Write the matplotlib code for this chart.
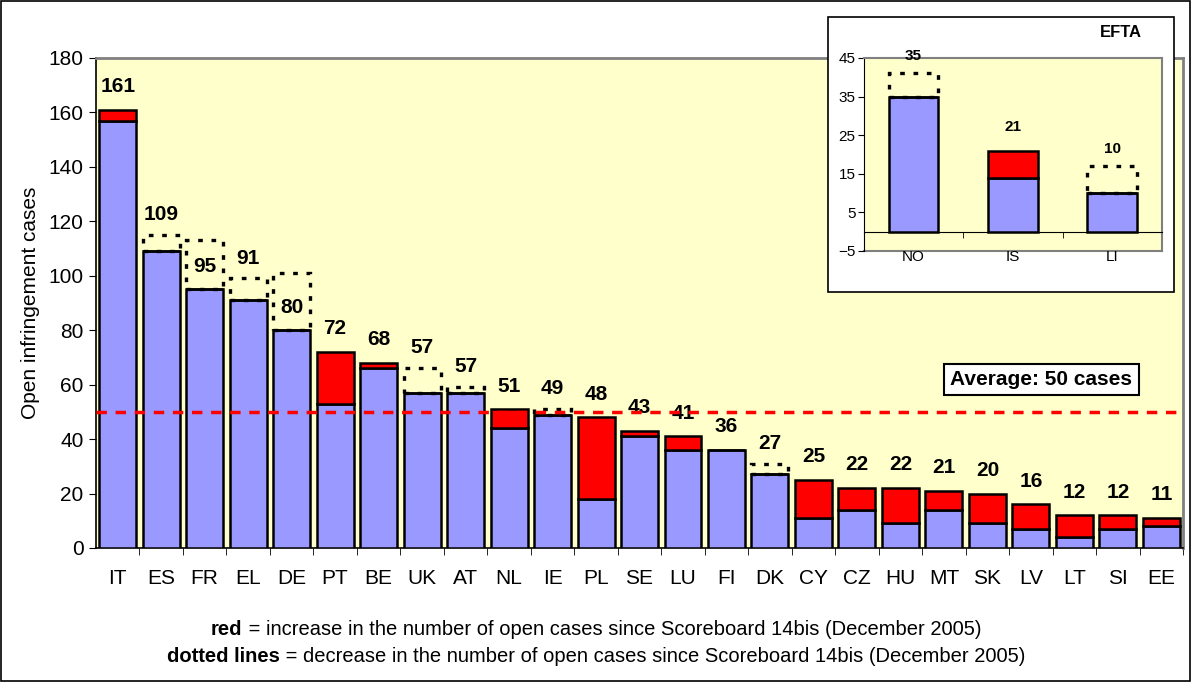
import numpy as np
import matplotlib.pyplot as plt
from matplotlib.patches import Rectangle

plt.rcParams['font.family'] = ['Liberation Sans', 'DejaVu Sans']

# EU member states: open cases now and at Scoreboard 14bis (Dec 2005)
countries = ['IT', 'ES', 'FR', 'EL', 'DE', 'PT', 'BE', 'UK', 'AT', 'NL', 'IE', 'PL', 'SE',
             'LU', 'FI', 'DK', 'CY', 'CZ', 'HU', 'MT', 'SK', 'LV', 'LT', 'SI', 'EE']
current = [161, 109, 95, 91, 80, 72, 68, 57, 57, 51, 49, 48, 43,
           41, 36, 27, 25, 22, 22, 21, 20, 16, 12, 12, 11]
previous = [157, 115, 113, 99, 101, 53, 66, 66, 59, 44, 51, 18, 41,
            36, 36, 31, 11, 14, 9, 14, 9, 7, 4, 7, 8]
average = 50

# EFTA inset
efta = ['NO', 'IS', 'LI']
efta_current = [35, 21, 10]
efta_previous = [41, 14, 17]

BLUE = '#9999FF'
RED = '#FF0000'
BG = '#FFFFCC'


def draw_bars(ax, cats, cur, prev, width, lw, label_off, near_off, near_gap, fs):
    x = np.arange(len(cats))
    cur = np.array(cur)
    prev = np.array(prev)
    base = np.minimum(cur, prev)
    ax.bar(x, base, width, color=BLUE, edgecolor='black', linewidth=lw, zorder=3)
    inc = np.where(cur > prev, cur - prev, 0)
    ax.bar(x, inc, width, bottom=base, color=RED, edgecolor='black', linewidth=lw, zorder=3)
    for xi, c, p in zip(x, cur, prev):
        if p > c:
            ax.add_patch(Rectangle((xi - width / 2, c), width, p - c, fill=False,
                                   edgecolor='black', linewidth=lw + 0.6,
                                   linestyle=(0, (1.4, 2.6)), zorder=4))
        if p > c and p - c < near_gap:
            y = p + near_off
        else:
            y = c + label_off
        ax.text(xi, y, str(c), ha='center', va='center', fontsize=fs,
                fontweight='bold', zorder=5)
    return x


fig = plt.figure(figsize=(11.92, 6.82), dpi=100)

# main chart
ax = fig.add_axes([0.0805, 0.1965, 0.912, 0.7185])
ax.set_facecolor(BG)
x = draw_bars(ax, countries, current, previous, 0.85, 1.8, 8.5, 7.5, 10, 15)
ax.axhline(average, color=RED, linestyle=(0, (3, 2.5)), linewidth=2.5, zorder=6)
ax.set_xlim(-0.5, len(countries) - 0.5)
ax.set_ylim(0, 180)
ax.set_yticks(np.arange(0, 181, 20))
ax.set_xticks(x)
ax.set_xticklabels(countries)
ax.set_xticks(np.arange(len(countries)) + 0.5, minor=True)
ax.tick_params(axis='x', which='major', length=0, pad=15, labelsize=15)
ax.tick_params(axis='x', which='minor', length=5, direction='out')
ax.tick_params(axis='y', length=5, labelsize=15, pad=4)
ax.set_ylabel('Open infringement cases', fontsize=15, labelpad=6)
for s in ['top', 'right']:
    ax.spines[s].set_color('#808080')
    ax.spines[s].set_linewidth(2)
ax.spines['left'].set_linewidth(1.2)
ax.spines['bottom'].set_linewidth(1.2)
ax.text(0.786, 0.344, 'Average: 50 cases', transform=ax.transAxes, fontsize=15,
        fontweight='bold', ha='left', va='center', zorder=7,
        bbox=dict(boxstyle='square,pad=0.3', facecolor='white', edgecolor='black',
                  linewidth=1.5))

# white box holding the inset
fig.patches.append(Rectangle((0.6946, 0.572), 0.2904, 0.403, transform=fig.transFigure,
                             facecolor='white', edgecolor='black', linewidth=1.2,
                             zorder=10, figure=fig))
fig.text(0.94, 0.952, 'EFTA', fontsize=12, fontweight='bold', ha='center', va='center',
         zorder=11)

ins = fig.add_axes([0.7248, 0.632, 0.25, 0.283], zorder=12)
ins.set_facecolor(BG)
xi = draw_bars(ins, efta, efta_current, efta_previous, 0.5, 1.8, 6, 4.5, 10, 11)
ins.set_xlim(-0.5, 2.5)
ins.set_ylim(-5, 45)
ins.set_yticks(np.arange(-5, 46, 10))
ins.set_xticks(xi)
ins.set_xticklabels(efta)
ins.set_xticks([0.5, 1.5], minor=True)
ins.spines['bottom'].set_position(('data', 0))
ins.tick_params(axis='x', which='major', length=0, pad=13, labelsize=11)
ins.tick_params(axis='x', which='minor', length=4, direction='out')
ins.tick_params(axis='y', length=4, labelsize=11, pad=2)
for s in ['top', 'right']:
    ins.spines[s].set_color('#808080')
    ins.spines[s].set_linewidth(1.5)
ins.axhline(-5, color='#808080', linewidth=1.5, clip_on=False, zorder=1)


def two_part(y, bold, rest, fs=14.5):
    # bold prefix followed by regular text, centred as a whole
    fig.canvas.draw()
    r = fig.canvas.get_renderer()
    a = fig.text(0, y, bold, fontsize=fs, fontweight='bold', va='center')
    b = fig.text(0, y, rest, fontsize=fs, va='center')
    wa = a.get_window_extent(r).width
    wb = b.get_window_extent(r).width
    W = fig.bbox.width
    x0 = (W - wa - wb) / 2 / W
    a.set_x(x0)
    b.set_x(x0 + wa / W)


# footnote
two_part(0.077, 'red', ' = increase in the number of open cases since Scoreboard 14bis (December 2005)')
two_part(0.037, 'dotted lines', ' = decrease in the number of open cases since Scoreboard 14bis (December 2005)')

# outer frame
fig.patches.append(Rectangle((0.001, 0.002), 0.997, 0.996, transform=fig.transFigure,
                             fill=False, edgecolor='black', linewidth=1.2, figure=fig))

fig.savefig('out.png', dpi=100)
